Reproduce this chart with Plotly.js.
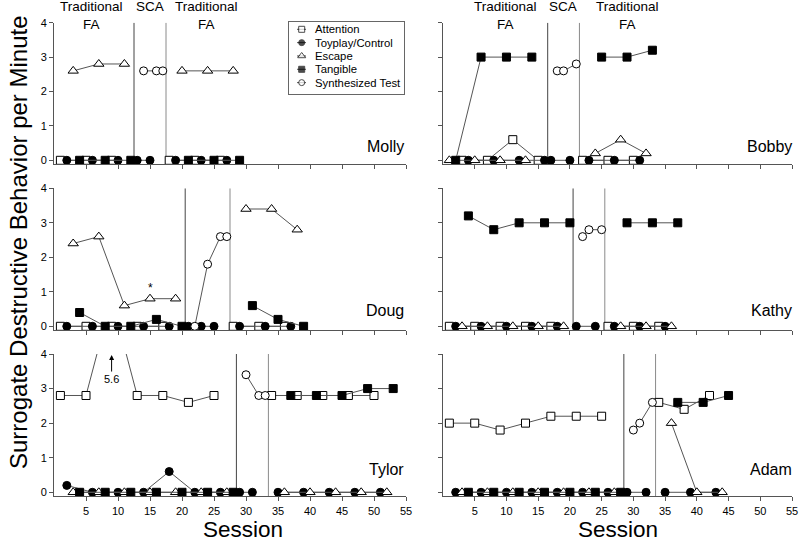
<!DOCTYPE html>
<html><head><meta charset="utf-8">
<script src="https://cdn.plot.ly/plotly-3.0.1.min.js"></script>
<style>body{margin:0;background:#fff}#chart{width:800px;height:545px}</style>
</head><body><div id="chart"></div>
<script>
// ================= DATA =================
const conditions = ["Attention", "Toyplay/Control", "Escape", "Tangible", "Synthesized Test"];
const xTickVals = [5, 10, 15, 20, 25, 30, 35, 40, 45, 50, 55];
const yTickVals = [0, 1, 2, 3, 4];
const participantNames = ["Molly", "Bobby", "Doug", "Kathy", "Tylor", "Adam"];

// Molly
const mollyAttX = [1, 5, 9, null, 18, 22, 26];
const mollyAttY = [0, 0, 0, null, 0, 0, 0];
const mollyToyX = [2, 6, 10, null, 13, 15, null, 19, 23, 27];
const mollyToyY = [0, 0, 0, null, 0, 0, null, 0, 0, 0];
const mollyEscX = [3, 7, 11, null, 20, 24, 28];
const mollyEscY = [2.6, 2.8, 2.8, null, 2.6, 2.6, 2.6];
const mollyTanX = [4, 8, 12, null, 21, 25, 29];
const mollyTanY = [0, 0, 0, null, 0, 0, 0];
const mollyTestX = [14, 16, 17];
const mollyTestY = [2.6, 2.6, 2.6];
const mollyPhases = [12.5, 17.5];

// Bobby
const bobbyAttX = [3, 7, 11, 15, null, 22, 26, 30];
const bobbyAttY = [0, 0, 0.6, 0, null, 0, 0, 0];
const bobbyToyX = [4, 8, 12, 16, null, 17, 20, null, 23, 27, 31];
const bobbyToyY = [0, 0, 0, 0, null, 0, 0, null, 0, 0, 0];
const bobbyEscX = [1, 5, 9, 13, null, 24, 28, 32];
const bobbyEscY = [0, 0, 0, 0, null, 0.2, 0.6, 0.2];
const bobbyTanX = [2, 6, 10, 14, null, 25, 29, 33];
const bobbyTanY = [0, 3, 3, 3, null, 3, 3, 3.2];
const bobbyTestX = [18, 19, 21];
const bobbyTestY = [2.6, 2.6, 2.8];
const bobbyPhases = [16.5, 21.5];

// Doug
const dougAttX = [1, 5, 9, 13, 17, null, 28, 32, 36];
const dougAttY = [0, 0, 0, 0, 0, null, 0, 0, 0];
const dougToyX = [2, 6, 10, 14, 18, null, 21, 23, 25, null, 29, 33, 37];
const dougToyY = [0, 0, 0, 0, 0, null, 0, 0, 0, null, 0, 0, 0];
const dougEscX = [3, 7, 11, 15, 19, null, 30, 34, 38];
const dougEscY = [2.4, 2.6, 0.6, 0.8, 0.8, null, 3.4, 3.4, 2.8];
const dougTanX = [4, 8, 12, 16, 20, null, 31, 35, 39];
const dougTanY = [0.4, 0, 0, 0.2, 0, null, 0.6, 0.2, 0];
const dougTestX = [22, 24, 26, 27];
const dougTestY = [0, 1.8, 2.6, 2.6];
const dougPhases = [20.5, 27.5];

// Kathy
const kathyAttX = [1, 5, 9, 13, 17, null, 26, 30, 34];
const kathyAttY = [0, 0, 0, 0, 0, null, 0, 0, 0];
const kathyToyX = [2, 6, 10, 14, 18, null, 21, 24, null, 27, 31, 35];
const kathyToyY = [0, 0, 0, 0, 0, null, 0, 0, null, 0, 0, 0];
const kathyEscX = [3, 7, 11, 15, 19, null, 28, 32, 36];
const kathyEscY = [0, 0, 0, 0, 0, null, 0, 0, 0];
const kathyTanX = [4, 8, 12, 16, 20, null, 29, 33, 37];
const kathyTanY = [3.2, 2.8, 3, 3, 3, null, 3, 3, 3];
const kathyTestX = [22, 23, 25];
const kathyTestY = [2.6, 2.8, 2.8];
const kathyPhases = [20.5, 25.5];

// Tylor
const tylorAttX = [1, 5, 9, 13, 17, 21, 25, null, 34, 38, 42, 46, 50];
const tylorAttY = [2.8, 2.8, 5.6, 2.8, 2.8, 2.6, 2.8, null, 2.8, 2.8, 2.8, 2.8, 2.8];
const tylorToyX = [2, 6, 10, 14, 18, 22, 26, null, 29, 31, null, 35, 39, 43, 47, 51];
const tylorToyY = [0.2, 0, 0, 0, 0.6, 0, 0, null, 0, 0, null, 0, 0, 0, 0, 0];
const tylorEscX = [3, 7, 11, 15, 19, 23, 27, null, 36, 40, 44, 48, 52];
const tylorEscY = [0, 0, 0, 0, 0, 0, 0, null, 0, 0, 0, 0, 0];
const tylorTanX = [4, 8, 12, 16, 20, 24, 28, null, 37, 41, 45, 49, 53];
const tylorTanY = [0, 0, 0, 0, 0, 0, 0, null, 2.8, 2.8, 2.8, 3.0, 3.0];
const tylorTestX = [30, 32, 33];
const tylorTestY = [3.4, 2.8, 2.8];
const tylorPhases = [28.5, 33.5];
const tylorOffscaleX = 9;
const tylorOffscaleLabel = "5.6";

// Adam
const adamAttX = [1, 5, 9, 13, 17, 21, 25, null, 34, 38, 42];
const adamAttY = [2.0, 2.0, 1.8, 2.0, 2.2, 2.2, 2.2, null, 2.6, 2.4, 2.8];
const adamToyX = [2, 6, 10, 14, 18, 22, 26, null, 29, 32, null, 35, 39, 43];
const adamToyY = [0, 0, 0, 0, 0, 0, 0, null, 0, 0, null, 0, 0, 0];
const adamEscX = [3, 7, 11, 15, 19, 23, 27, null, 36, 40, 44];
const adamEscY = [0, 0, 0, 0, 0, 0, 0, null, 2.0, 0, 0];
const adamTanX = [4, 8, 12, 16, 20, 24, 28, null, 37, 41, 45];
const adamTanY = [0, 0, 0, 0, 0, 0, 0, null, 2.6, 2.6, 2.8];
const adamTestX = [30, 31, 33];
const adamTestY = [1.8, 2.0, 2.6];
const adamPhases = [28.5, 33.5];

// Doug asterisk position (session 15)
const dougStarX = 15;

// ================= BUILD =================
const panels = [
  {name: participantNames[0], series: [[mollyAttX, mollyAttY], [mollyToyX, mollyToyY], [mollyEscX, mollyEscY], [mollyTanX, mollyTanY], [mollyTestX, mollyTestY]], phases: mollyPhases},
  {name: participantNames[1], series: [[bobbyAttX, bobbyAttY], [bobbyToyX, bobbyToyY], [bobbyEscX, bobbyEscY], [bobbyTanX, bobbyTanY], [bobbyTestX, bobbyTestY]], phases: bobbyPhases},
  {name: participantNames[2], series: [[dougAttX, dougAttY], [dougToyX, dougToyY], [dougEscX, dougEscY], [dougTanX, dougTanY], [dougTestX, dougTestY]], phases: dougPhases},
  {name: participantNames[3], series: [[kathyAttX, kathyAttY], [kathyToyX, kathyToyY], [kathyEscX, kathyEscY], [kathyTanX, kathyTanY], [kathyTestX, kathyTestY]], phases: kathyPhases},
  {name: participantNames[4], series: [[tylorAttX, tylorAttY], [tylorToyX, tylorToyY], [tylorEscX, tylorEscY], [tylorTanX, tylorTanY], [tylorTestX, tylorTestY]], phases: tylorPhases},
  {name: participantNames[5], series: [[adamAttX, adamAttY], [adamToyX, adamToyY], [adamEscX, adamEscY], [adamTanX, adamTanY], [adamTestX, adamTestY]], phases: adamPhases}
];

const W = 800, H = 545;
const FONT = "Liberation Sans, Arial, Helvetica, sans-serif";
const LINE = "#555";
const markerStyles = [
  {symbol: "square", size: 8, color: "#fff"},
  {symbol: "circle", size: 8, color: "#000"},
  {symbol: "triangle-up", size: 9, color: "#fff"},
  {symbol: "square", size: 8, color: "#000"},
  {symbol: "circle", size: 8, color: "#fff"}
];
const xDom = [[54 / W, 406 / W], [443 / W, 792 / W]];
const rowPx = [[22.7, 164.3], [188.3, 330.3], [354, 496.3]];
const yDom = rowPx.map(r => [1 - r[1] / H, 1 - r[0] / H]);
const YMIN = -0.116, YMAX = 4;

const traces = [];
const layout = {
  width: W, height: H,
  margin: {l: 0, r: 0, t: 0, b: 0},
  paper_bgcolor: "#fff", plot_bgcolor: "rgba(0,0,0,0)",
  showlegend: false,
  font: {family: FONT, color: "#000"},
  shapes: [], annotations: []
};

panels.forEach((p, i) => {
  const n = i + 1;
  const col = i % 2, row = Math.floor(i / 2);
  const xa = "xaxis" + (n === 1 ? "" : n), ya = "yaxis" + (n === 1 ? "" : n);
  const xr = "x" + (n === 1 ? "" : n), yr = "y" + (n === 1 ? "" : n);
  layout[xa] = {
    domain: xDom[col], range: [0, 55], anchor: yr,
    tickvals: xTickVals, ticks: "outside", ticklen: 4, tickcolor: LINE, tickwidth: 1,
    showline: true, linecolor: LINE, linewidth: 1, showgrid: false, zeroline: false,
    showticklabels: row === 2, tickfont: {size: 11, family: FONT, color: "#000"}, fixedrange: true
  };
  layout[ya] = {
    domain: yDom[row], range: [YMIN, YMAX], anchor: xr,
    tickvals: yTickVals, ticks: "outside", ticklen: 4, tickcolor: LINE, tickwidth: 1,
    showline: true, linecolor: LINE, linewidth: 1, showgrid: false, zeroline: false,
    showticklabels: col === 0, tickfont: {size: 11, family: FONT, color: "#000"}, fixedrange: true
  };
  p.phases.forEach((v, k) => {
    layout.shapes.push({type: "line", xref: xr, yref: yr, x0: v, x1: v, y0: YMIN, y1: YMAX,
      line: {color: k === 0 ? "#444" : "#8a8a8a", width: 1}, layer: "below"});
  });
  p.series.forEach((s, k) => {
    const st = markerStyles[k];
    traces.push({
      type: "scatter", mode: "lines+markers", x: s[0], y: s[1], xaxis: xr, yaxis: yr,
      name: conditions[k], connectgaps: false, cliponaxis: false, hoverinfo: "skip",
      line: {color: LINE, width: 1},
      marker: {symbol: st.symbol, size: st.size, color: st.color, line: {color: "#000", width: 1}}
    });
  });
  // participant name
  const nameX = col === 0 ? 406 : 794;
  const nameY = [146.7, 310.7, 469.3][row];
  layout.annotations.push({xref: "paper", yref: "paper", x: nameX / W, y: 1 - nameY / H,
    xanchor: "right", yanchor: "middle", showarrow: false, text: p.name,
    font: {size: 16, family: FONT, color: "#000"}});
});

// Phase headers (top row)
const headerFont = {size: 13.5, family: FONT, color: "#000"};
[[91.5, "Traditional<br>FA"], [150, "SCA"], [206, "Traditional<br>FA"],
 [506, "Traditional<br>FA"], [562.5, "SCA"], [627.5, "Traditional<br>FA"]].forEach(h => {
  const two = h[1].indexOf("<br>") >= 0;
  layout.annotations.push({xref: "paper", yref: "paper", x: h[0] / W,
    y: 1 - (two ? 15.4 : 6.7) / H, xanchor: "center", yanchor: "middle",
    showarrow: false, text: h[1], font: headerFont});
});

// Off-scale arrow for Tylor
layout.annotations.push({xref: "x5", yref: "y5", x: tylorOffscaleX, y: 3.97, ax: 0, ay: 24,
  text: tylorOffscaleLabel, showarrow: true, arrowhead: 2, arrowsize: 1, arrowwidth: 1,
  arrowcolor: "#000", standoff: 0, font: {size: 11, family: FONT, color: "#000"}});
// Asterisk for Doug
layout.annotations.push({xref: "x3", yref: "y3", x: dougStarX, y: 1.12, showarrow: false,
  text: "*", font: {size: 12, family: FONT, color: "#000"}});

// Axis titles
layout.annotations.push({xref: "paper", yref: "paper", x: 18 / W, y: 1 - 242 / H,
  xanchor: "center", yanchor: "middle", textangle: -90, showarrow: false,
  text: "Surrogate Destructive Behavior per Minute", font: {size: 24, family: FONT, color: "#000"}});
[243, 617.5].forEach(cx => {
  layout.annotations.push({xref: "paper", yref: "paper", x: cx / W, y: 1 - 529 / H,
    xanchor: "center", yanchor: "middle", showarrow: false, text: "Session",
    font: {size: 22.5, family: FONT, color: "#000"}});
});

// Custom legend box (own small axes)
layout.xaxis7 = {domain: [289 / W, 404 / W], range: [0, 115], anchor: "y7", showline: true, mirror: true,
  linecolor: "#666", linewidth: 1, showgrid: false, zeroline: false, showticklabels: false, ticks: "", fixedrange: true};
layout.yaxis7 = {domain: [1 - 94 / H, 1 - 22 / H], range: [72, 0], anchor: "x7", showline: true, mirror: true,
  linecolor: "#666", linewidth: 1, showgrid: false, zeroline: false, showticklabels: false, ticks: "", fixedrange: true};
conditions.forEach((c, k) => {
  const yc = 7.3 + 13.33 * k;
  const st = markerStyles[k];
  traces.push({type: "scatter", mode: "lines+markers", x: [8, 12.7, 17], y: [yc, yc, yc],
    xaxis: "x7", yaxis: "y7", hoverinfo: "skip", cliponaxis: false,
    line: {color: LINE, width: 1},
    marker: {symbol: st.symbol, size: [0, st.size - 2, 0], color: st.color,
      line: {color: "#000", width: [0, 1, 0]}}});
  layout.annotations.push({xref: "x7", yref: "y7", x: 24, y: yc, xanchor: "left", yanchor: "middle",
    showarrow: false, text: c, font: {size: 11.3, family: FONT, color: "#000"}});
});

Plotly.newPlot("chart", traces, layout, {staticPlot: true, displayModeBar: false});
</script>
</body></html>
